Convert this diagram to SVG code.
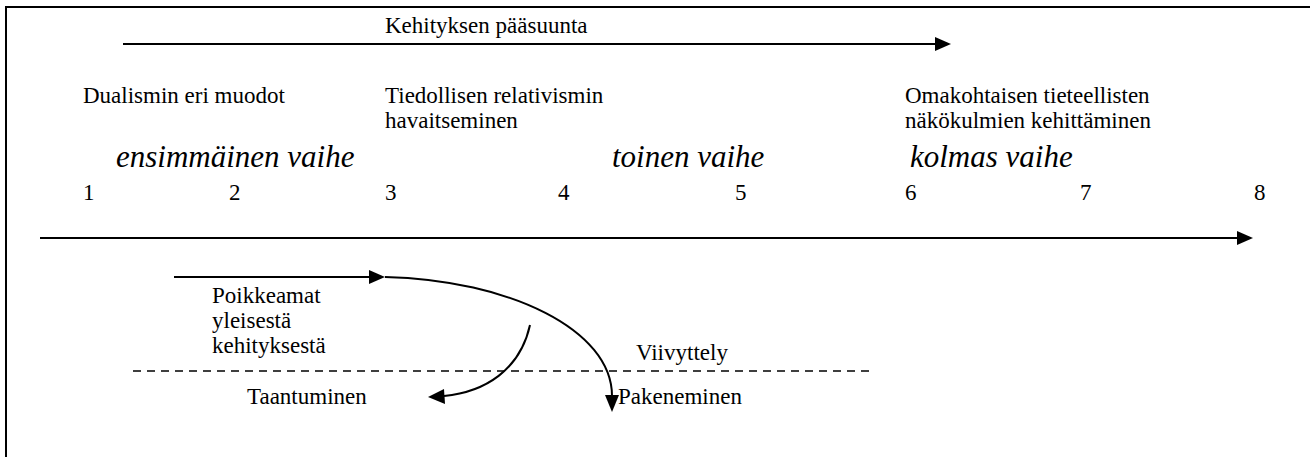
<svg xmlns="http://www.w3.org/2000/svg" width="1310" height="457" viewBox="0 0 1310 457" font-family="Times New Roman, Liberation Serif, serif">
<style>
.t{font-size:23px}
.i{font-size:31px;font-style:italic}
.ln{stroke:#000;stroke-width:2;fill:none}
.dash{stroke:#000;stroke-width:1.5;stroke-dasharray:8,6;fill:none}
.ah{fill:#000;stroke:none}
</style>
<rect width="1310" height="457" fill="#fff"/>
<g id="frame">
<path d="M6,457 V7 H1310" class="ln" stroke-width="3"/>
</g>
<g id="connectors">
<line x1="123" y1="44" x2="937" y2="44" class="ln"/>
<polygon class="ah" points="951,44 935,37 935,51"/>
<line x1="40" y1="238" x2="1239" y2="238" class="ln"/>
<polygon class="ah" points="1253,238 1237,231 1237,245"/>
<line x1="174" y1="277" x2="371" y2="277" class="ln"/>
<polygon class="ah" points="385,277 369,270 369,284"/>
<path d="M385,277 C510,280 612,330 612,396" class="ln"/>
<polygon class="ah" points="612,412 605,395 619,395"/>
<path d="M530,325 C520,370 485,392 444,396" class="ln"/>
<polygon class="ah" points="428,397 444,389 445,404"/>
<line x1="133" y1="371" x2="873" y2="371" class="dash"/>
</g>
<g id="title"><text class="t" font-family="Times New Roman, serif" x="385" y="33">Kehityksen pääsuunta</text></g>
<g id="stage1">
<text class="t" font-family="Times New Roman, serif" x="83" y="103">Dualismin eri muodot</text>
<text class="i" font-family="Times New Roman, serif" x="116" y="167">ensimmäinen vaihe</text>
</g>
<g id="stage2">
<text class="t" font-family="Times New Roman, serif" x="385" y="103">Tiedollisen relativismin</text>
<text class="t" font-family="Times New Roman, serif" x="385" y="128">havaitseminen</text>
<text class="i" font-family="Times New Roman, serif" x="612" y="167">toinen vaihe</text>
</g>
<g id="stage3">
<text class="t" font-family="Times New Roman, serif" x="905" y="103">Omakohtaisen tieteellisten</text>
<text class="t" font-family="Times New Roman, serif" x="905" y="128">näkökulmien kehittäminen</text>
<text class="i" font-family="Times New Roman, serif" x="910" y="167">kolmas vaihe</text>
</g>
<g id="scale">
<text class="t" font-family="Times New Roman, serif" x="83" y="200">1</text>
<text class="t" font-family="Times New Roman, serif" x="229" y="200">2</text>
<text class="t" font-family="Times New Roman, serif" x="385" y="200">3</text>
<text class="t" font-family="Times New Roman, serif" x="558" y="200">4</text>
<text class="t" font-family="Times New Roman, serif" x="735" y="200">5</text>
<text class="t" font-family="Times New Roman, serif" x="905" y="200">6</text>
<text class="t" font-family="Times New Roman, serif" x="1080" y="200">7</text>
<text class="t" font-family="Times New Roman, serif" x="1254" y="200">8</text>
</g>
<g id="deviations">
<text class="t" font-family="Times New Roman, serif" x="212" y="303">Poikkeamat</text>
<text class="t" font-family="Times New Roman, serif" x="212" y="328">yleisestä</text>
<text class="t" font-family="Times New Roman, serif" x="212" y="353">kehityksestä</text>
</g>
<g id="delay"><text class="t" font-family="Times New Roman, serif" x="636" y="360">Viivyttely</text></g>
<g id="regression"><text class="t" font-family="Times New Roman, serif" x="247" y="404">Taantuminen</text></g>
<g id="escape"><text class="t" font-family="Times New Roman, serif" x="618" y="404">Pakeneminen</text></g>
</svg>
